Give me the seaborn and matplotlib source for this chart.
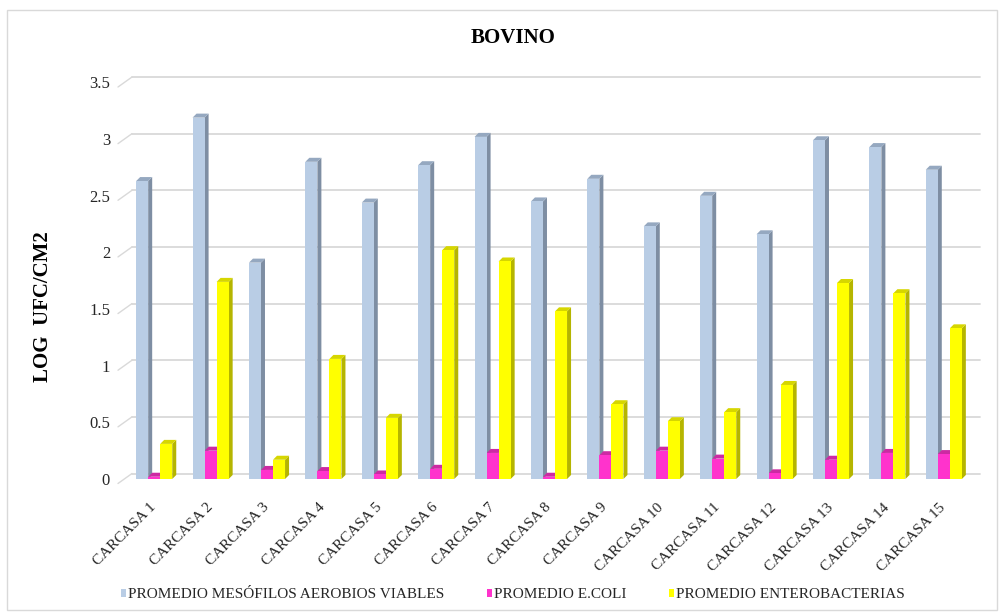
import numpy as np
import pandas as pd
import matplotlib
matplotlib.use("Agg")
import matplotlib.pyplot as plt
import matplotlib.transforms as mtransforms
from matplotlib.patches import Polygon, Patch, Rectangle
from matplotlib.lines import Line2D
import seaborn as sns

# ---- data -------------------------------------------------------------
carcasas = [f"CARCASA {i}" for i in range(1, 16)]
mesofilos = [2.63, 3.19, 1.91, 2.80, 2.44, 2.77, 3.02, 2.45, 2.65, 2.23,
             2.50, 2.16, 2.99, 2.93, 2.73]
ecoli = [0.02, 0.25, 0.08, 0.07, 0.04, 0.09, 0.23, 0.02, 0.21, 0.25,
         0.18, 0.05, 0.17, 0.23, 0.22]
enterobacterias = [0.31, 1.74, 0.17, 1.06, 0.54, 2.02, 1.92, 1.48, 0.66, 0.51,
                   0.59, 0.83, 1.73, 1.64, 1.33]
series = ["PROMEDIO MESÓFILOS AEROBIOS VIABLES", "PROMEDIO E.COLI",
          "PROMEDIO ENTEROBACTERIAS"]
yticks = [0, 0.5, 1, 1.5, 2, 2.5, 3, 3.5]
ytick_labels = ["0", "0.5", "1", "1.5", "2", "2.5", "3", "3.5"]

df = pd.DataFrame({
    "carcasa": carcasas * 3,
    "serie": [series[0]] * 15 + [series[1]] * 15 + [series[2]] * 15,
    "valor": mesofilos + ecoli + enterobacterias,
})

# front, side and top shades for each series
front = {series[0]: "#B9CDE5", series[1]: "#FF33CC", series[2]: "#FFFF00"}
side = {series[0]: "#7E8EA3", series[1]: "#B3238F", series[2]: "#B5B500"}
top = {series[0]: "#95A8C0", series[1]: "#CC2AA3", series[2]: "#D6D600"}

# ---- figure -----------------------------------------------------------
sns.set_theme(style="white")
plt.rcParams["font.family"] = ["Liberation Serif", "DejaVu Serif"]

W, H, DPI = 1001, 614, 100
fig = plt.figure(figsize=(W / DPI, H / DPI), dpi=DPI)
ax_l, ax_r, ax_b, ax_t = 126, 972, 479, 82.5
ax = fig.add_axes([ax_l / W, (H - ax_b) / H, (ax_r - ax_l) / W, (ax_b - ax_t) / H])

# outer chart frame
fig.patches.append(Rectangle((7 / W, 4 / H), 990 / W, 600 / H,
                             transform=fig.transFigure, fill=False,
                             edgecolor="#D9D9D9", linewidth=1.0))

sns.barplot(data=df, x="carcasa", y="valor", hue="serie", palette=front,
            hue_order=series, order=carcasas, width=0.64, saturation=1,
            legend=False, ax=ax, zorder=3, linewidth=0)

ax.set_xlim(-0.5, len(carcasas) - 0.5)
ax.set_ylim(0, 3.5)

# pixel sizes of one data unit, used for the extruded faces
px_x = (ax_r - ax_l) / len(carcasas)
px_y = (ax_b - ax_t) / 3.5
dx, dy = 4 / px_x, 4 / px_y

colour_to_series = {matplotlib.colors.to_hex(front[s]): s for s in series}
bars = list(ax.patches)
for p in bars:
    s = colour_to_series[matplotlib.colors.to_hex(p.get_facecolor())]
    x0, w, h = p.get_x(), p.get_width(), p.get_height()
    x1 = x0 + w
    side_face = Polygon([(x1, 0), (x1 + dx, dy), (x1 + dx, h + dy), (x1, h)],
                        closed=True, facecolor=side[s], edgecolor="none",
                        zorder=2)
    top_face = Polygon([(x0, h), (x0 + dx, h + dy), (x1 + dx, h + dy), (x1, h)],
                       closed=True, facecolor=top[s], edgecolor="none",
                       zorder=2.5)
    ax.add_patch(side_face)
    ax.add_patch(top_face)

# back-wall gridlines, shifted up/right from the front plane
back = mtransforms.ScaledTranslation(0, 5.5 / DPI, fig.dpi_scale_trans)
gx0 = (132 - ax_l) / (ax_r - ax_l)
gx1 = (980 - ax_l) / (ax_r - ax_l)
blend = mtransforms.blended_transform_factory(ax.transAxes, ax.transData) + back
for v in yticks:
    ax.add_line(Line2D([gx0, gx1], [v, v], transform=blend, color="#D9D9D9",
                       linewidth=1.3, zorder=1, clip_on=False))
    # diagonal side-wall edge
    p0 = blend.transform((gx0, v))
    p1 = p0 + np.array([-14, -10])
    ax.add_line(Line2D([p0[0], p1[0]], [p0[1], p1[1]], transform=None,
                       color="#D9D9D9", linewidth=1.0, zorder=1, clip_on=False))

for sp in ax.spines.values():
    sp.set_visible(False)
ax.grid(False)

ax.set_yticks(yticks)
ax.set_yticklabels(ytick_labels, fontsize=12, color="#262626")
ax.tick_params(axis="y", length=0, pad=11.5)

ax.set_xticks(range(len(carcasas)))
ax.set_xticklabels(carcasas, rotation=45, ha="right", va="center",
                   rotation_mode="anchor", fontsize=11, color="#262626")
ax.tick_params(axis="x", length=0, pad=19)
ax.set_xlabel("")

ax.set_ylabel("LOG  UFC/CM2", fontsize=15, fontweight="bold", color="#000000")
ax.yaxis.set_label_coords((53 - ax_l) / (ax_r - ax_l), (ax_b - 307) / (ax_b - ax_t))

fig.text(513 / W, 1 - 38 / H, "BOVINO", ha="center", va="center",
         fontsize=15, fontweight="bold", color="#000000")

handles = [Patch(facecolor=front[s], edgecolor="none") for s in series]
fig.legend(handles, series, loc="center", bbox_to_anchor=(513 / W, 1 - 595 / H),
           ncol=3, frameon=False, fontsize=11, handlelength=0.35,
           handleheight=0.35, handletextpad=0.15, columnspacing=2.75)

fig.savefig("out.png", dpi=DPI)
